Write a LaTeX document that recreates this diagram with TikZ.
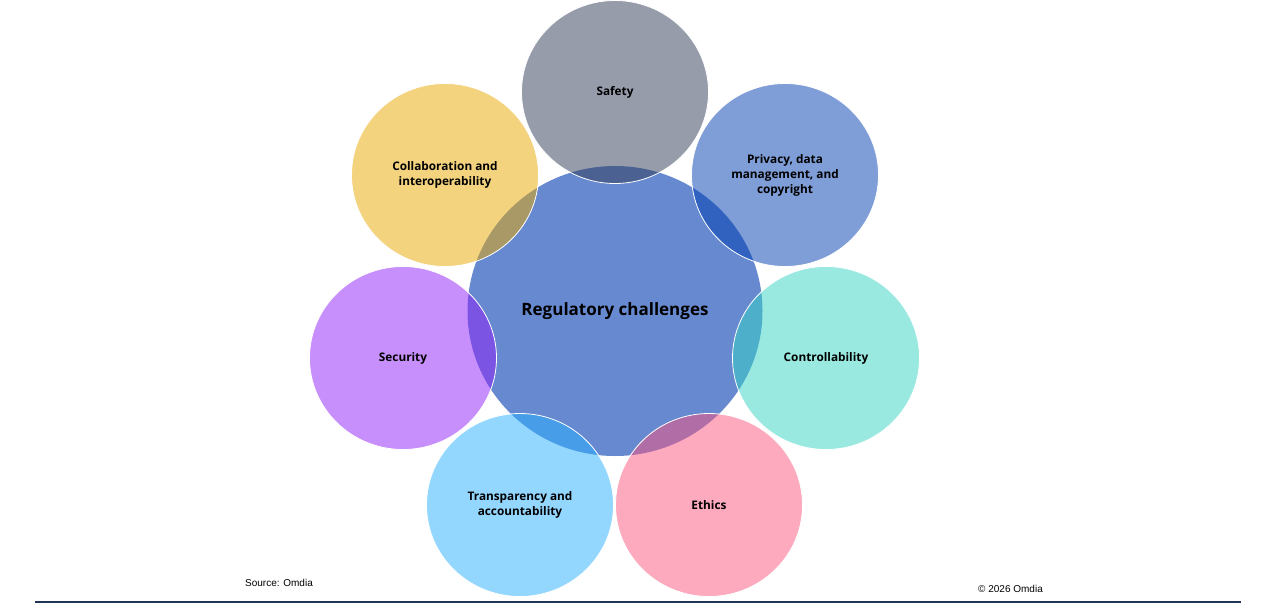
\documentclass[tikz,border=0pt]{standalone}
\usepackage{fontspec}
\setmainfont{Open Sans}
\newfontfamily\notefont{Liberation Sans}
\usetikzlibrary{shapes.geometric}
\definecolor{centralblue}{RGB}{102,137,207}
\definecolor{cgray}{RGB}{47,59,87}
\definecolor{cyellow}{RGB}{235,169,1}
\definecolor{cprivacy}{RGB}{0,61,177}
\definecolor{cteal}{RGB}{53,213,197}
\definecolor{cpurple}{RGB}{145,33,249}
\definecolor{csky}{RGB}{41,177,255}
\definecolor{cpink}{RGB}{253,85,127}
\definecolor{rulenavy}{RGB}{31,53,86}
\tikzset{
  outer/.style={ellipse, minimum width=187pt, minimum height=183pt, inner sep=0pt,
    draw=white, line width=0.8pt, fill=#1, fill opacity=0.5, text opacity=1,
    align=center, font=\fontsize{11.8}{15}\selectfont\bfseries},
  hub/.style={ellipse, minimum width=295pt, minimum height=290pt, inner sep=0pt,
    fill=centralblue, draw=none, font=\fontsize{17}{20}\selectfont\bfseries},
  note/.style={font=\notefont\fontsize{10}{12}\selectfont, inner sep=0pt}
}
\begin{document}
\begin{tikzpicture}[x=1pt,y=-1pt]
\useasboundingbox (0,0) rectangle (1280,608);
\fill[white] (0,0) rectangle (1280,608);
\node[hub] (hub) at (615,311) {Regulatory challenges};
\node[outer=cgray] (safety) at (615,92) {Safety};
\node[outer=cyellow] (collab) at (445,175) {Collaboration and\\interoperability};
\node[outer=cprivacy] (privacy) at (785,175) {Privacy, data\\management, and\\copyright};
\node[outer=cteal] (control) at (826,358) {Controllability};
\node[outer=cpink] (ethics) at (709,505) {Ethics};
\node[outer=csky] (transp) at (520,505) {Transparency and\\accountability};
\node[outer=cpurple] (security) at (403,358) {Security};
\node[note, anchor=west] (source) at (245,583) {Source: Omdia};
\node[note, anchor=west] (copy) at (978,589) {© 2026 Omdia};
\coordinate (ruleL) at (35,602);
\coordinate (ruleR) at (1241,602);
\draw[rulenavy, line width=1.2pt] (ruleL) -- (ruleR);
\end{tikzpicture}
\end{document}
